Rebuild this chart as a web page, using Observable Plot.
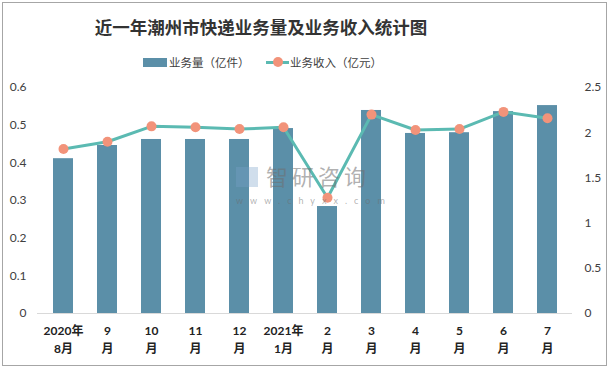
<!DOCTYPE html>
<html><head><meta charset="utf-8">
<script src="https://cdn.jsdelivr.net/npm/d3@7"></script>
<script src="https://cdn.jsdelivr.net/npm/@observablehq/plot@0.6"></script>
<style>
body{margin:0;background:#fff;}
#wrap{position:relative;width:610px;height:370px;overflow:hidden;font-family:"Noto Sans CJK SC",sans-serif;background:#fff;}
#frame{position:absolute;left:2px;top:2px;width:603px;height:362px;border:1px solid #a6a6a6;pointer-events:none;}
#title{height:50px;width:522px;text-align:center;font-size:17.5px;font-weight:700;color:#333;line-height:54px;}
#legend{position:relative;height:25px;font-size:11.5px;color:#404040;}
.lg{position:absolute;top:4px;white-space:nowrap;line-height:16px;}
.wm{position:absolute;color:rgba(110,110,110,0.55);pointer-events:none;white-space:nowrap;}
#wmBig{left:266px;top:164px;font-size:22px;line-height:22px;height:22px;letter-spacing:4px;}
#wmSmall{left:236px;top:196px;font-size:9px;letter-spacing:7px;line-height:9px;height:9px;font-family:Lato,sans-serif;}
#wmLogo{position:absolute;left:236px;top:167px;width:22px;height:20px;background:rgba(120,160,200,0.35);}
</style></head>
<body>
<div id="wrap">
  <div id="title">近一年潮州市快递业务量及业务收入统计图</div>
  <div id="legend">
    <div style="position:absolute;left:143px;top:8px;width:24px;height:9px;background:#5b8fa8;"></div>
    <div class="lg" style="left:169px;">业务量（亿件）</div>
    <div style="position:absolute;left:266px;top:11px;width:23px;height:3px;background:#5bbab2;"></div>
    <div style="position:absolute;left:273px;top:7px;width:10px;height:10px;border-radius:50%;background:#f2937a;"></div>
    <div class="lg" style="left:290px;">业务收入（亿元）</div>
  </div>
  <div id="chart"></div>
  <div id="wmLogo"></div>
  <div class="wm" id="wmBig">智研咨询</div>
  <div class="wm" id="wmSmall">www.chyxx.com</div>
  <div id="frame"></div>
</div>
<script>
const months = ["2020年\n8月","9\n月","10\n月","11\n月","12\n月","2021年\n1月","2\n月","3\n月","4\n月","5\n月","6\n月","7\n月"];
const volume = [0.411,0.446,0.462,0.462,0.462,0.491,0.284,0.539,0.478,0.480,0.536,0.552];
const income = [1.82,1.90,2.07,2.06,2.04,2.06,1.28,2.20,2.03,2.04,2.23,2.16];
const leftTicks = [0,0.1,0.2,0.3,0.4,0.5,0.6];
const rightTicks = [0,0.5,1,1.5,2,2.5];

const k = 0.6 / 2.5;
const data = months.map((m, i) => ({month: m, volume: volume[i], income: income[i]}));
const fmt = v => String(Math.round(v * 10) / 10);

const chart = Plot.plot({
  width: 610,
  height: 295,
  marginLeft: 37,
  marginRight: 38,
  marginTop: 12,
  marginBottom: 57,
  style: {fontFamily: "Lato, 'Noto Sans CJK SC', sans-serif", fontSize: "12px", color: "#404040", background: "transparent"},
  x: {domain: months, paddingInner: 0.55, paddingOuter: 0.29},
  y: {domain: [0, 0.6]},
  marks: [
    Plot.barY(data, {x: "month", y: "volume", fill: "#5b8fa8"}),
    Plot.ruleY([0], {stroke: "#d9d9d9", strokeWidth: 1}),
    Plot.line(data, {x: "month", y: d => d.income * k, stroke: "#5bbab2", strokeWidth: 3}),
    Plot.dot(data, {x: "month", y: d => d.income * k, r: 5, fill: "#f2937a"}),
    Plot.axisY(leftTicks, {anchor: "left", tickSize: 0, tickPadding: 11, tickFormat: fmt, label: null}),
    Plot.axisY(rightTicks.map(v => v * k), {anchor: "right", tickSize: 0, tickPadding: 12, tickFormat: d => fmt(d / k), label: null}),
    Plot.axisX({tickSize: 0, tickPadding: 9, fontWeight: "bold", lineHeight: 1.5, fill: "#222", label: null})
  ]
});
document.getElementById("chart").appendChild(chart);
</script>
</body></html>
